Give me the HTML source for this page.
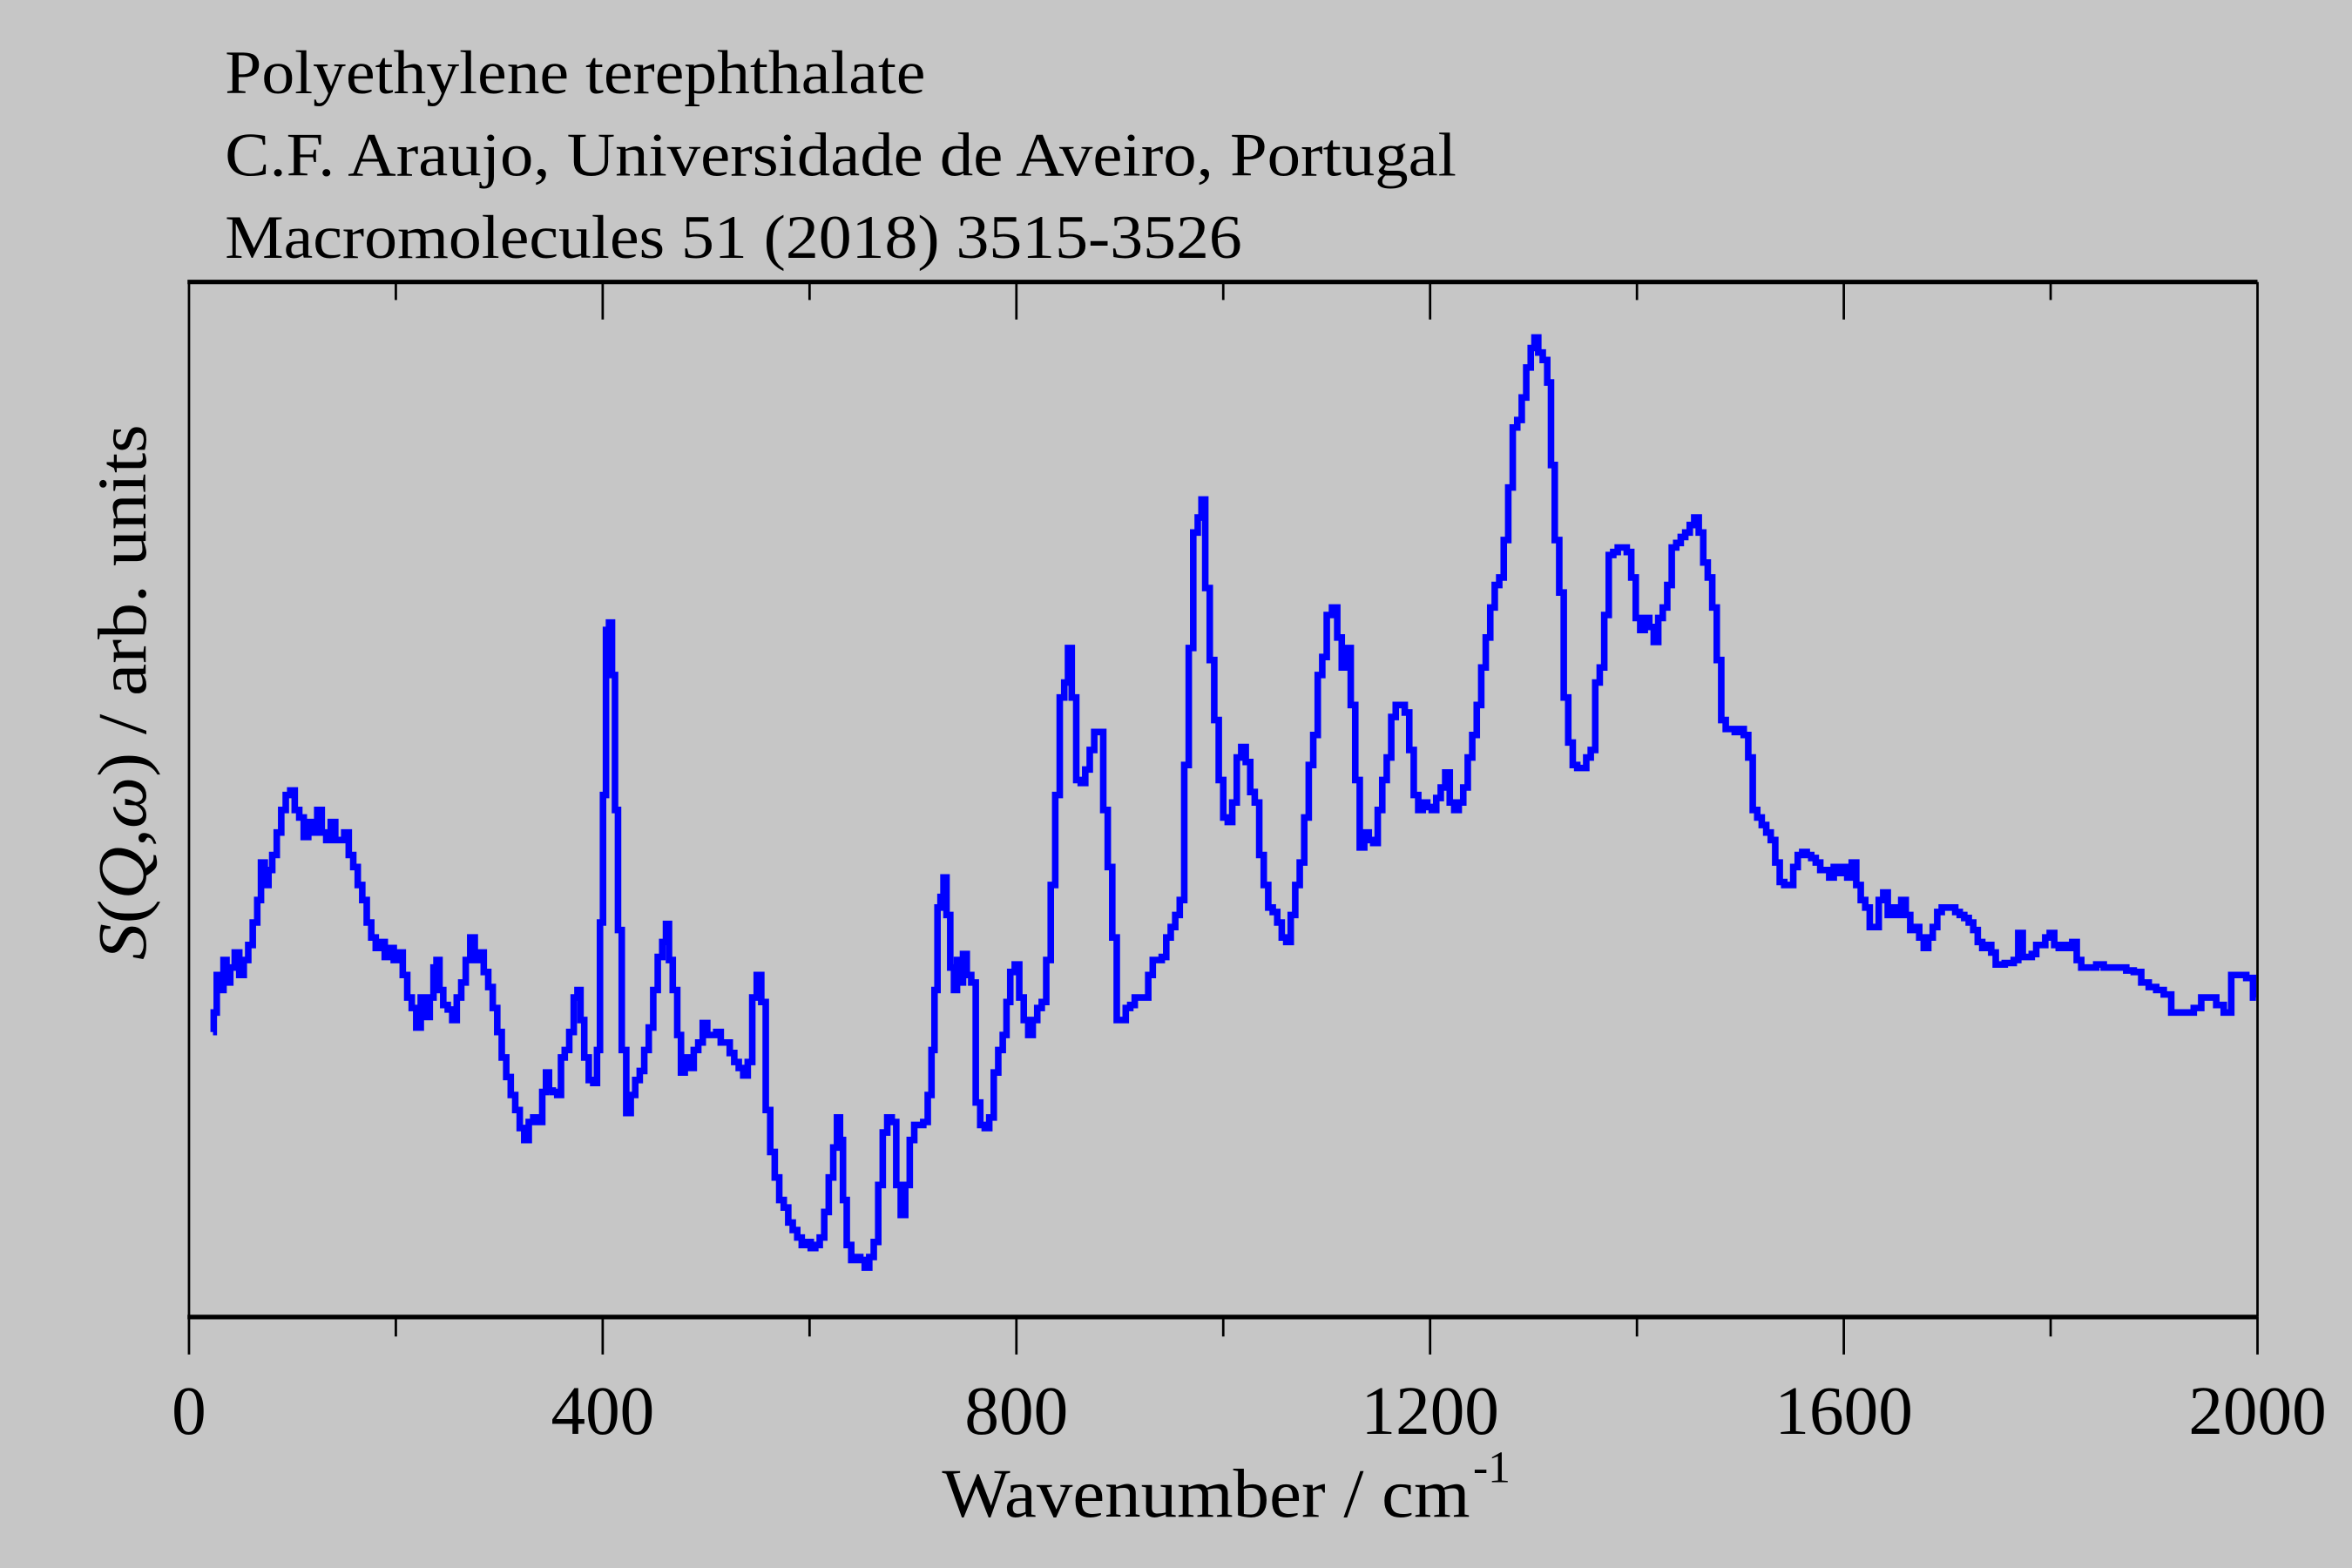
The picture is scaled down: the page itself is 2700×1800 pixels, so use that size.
<!DOCTYPE html>
<html><head><meta charset="utf-8"><style>
html,body{margin:0;padding:0;background:#c6c6c6;}
svg{display:block;}
text{font-family:"Liberation Serif","Times New Roman",serif;fill:#000;}
</style></head><body>
<svg width="2700" height="1800" viewBox="0 0 1568 1045.33" xmlns="http://www.w3.org/2000/svg">
<rect x="0" y="0" width="1568" height="1046" fill="#c6c6c6"/>
<text x="150" y="62" font-size="41" textLength="467" lengthAdjust="spacingAndGlyphs">Polyethylene terephthalate</text>
<text x="150" y="117" font-size="41" textLength="821" lengthAdjust="spacingAndGlyphs">C.F. Araujo, Universidade de Aveiro, Portugal</text>
<text x="150" y="172" font-size="41" textLength="678" lengthAdjust="spacingAndGlyphs">Macromolecules 51 (2018) 3515-3526</text>
<g stroke="#000" fill="none">
<line x1="125" y1="188" x2="1505" y2="188" stroke-width="3"/>
<line x1="125" y1="878" x2="1505" y2="878" stroke-width="3"/>
<line x1="126" y1="188" x2="126" y2="878" stroke-width="1.6"/>
<line x1="1505" y1="188" x2="1505" y2="878" stroke-width="1.6"/>
<g stroke-width="1.6">
<line x1="126" y1="878" x2="126" y2="903"/><line x1="401.8" y1="878" x2="401.8" y2="903"/><line x1="677.6" y1="878" x2="677.6" y2="903"/><line x1="953.4" y1="878" x2="953.4" y2="903"/><line x1="1229.2" y1="878" x2="1229.2" y2="903"/><line x1="1505" y1="878" x2="1505" y2="903"/>
<line x1="263.9" y1="878" x2="263.9" y2="891"/><line x1="539.7" y1="878" x2="539.7" y2="891"/><line x1="815.5" y1="878" x2="815.5" y2="891"/><line x1="1091.3" y1="878" x2="1091.3" y2="891"/><line x1="1367.1" y1="878" x2="1367.1" y2="891"/>
<line x1="401.8" y1="188" x2="401.8" y2="213"/><line x1="677.6" y1="188" x2="677.6" y2="213"/><line x1="953.4" y1="188" x2="953.4" y2="213"/><line x1="1229.2" y1="188" x2="1229.2" y2="213"/>
<line x1="263.9" y1="188" x2="263.9" y2="200"/><line x1="539.7" y1="188" x2="539.7" y2="200"/><line x1="815.5" y1="188" x2="815.5" y2="200"/><line x1="1091.3" y1="188" x2="1091.3" y2="200"/><line x1="1367.1" y1="188" x2="1367.1" y2="200"/>
</g></g>
<g font-size="46" text-anchor="middle">
<text x="126" y="956">0</text><text x="401.8" y="956">400</text><text x="677.6" y="956">800</text><text x="953.4" y="956">1200</text><text x="1229.2" y="956">1600</text><text x="1505" y="956">2000</text>
</g>
<text x="628" y="1011" font-size="46" textLength="352" lengthAdjust="spacingAndGlyphs">Wavenumber / cm</text>
<text x="982" y="988" font-size="30">-1</text>
<text transform="translate(97,640) rotate(-90)" font-size="46" textLength="357" lengthAdjust="spacingAndGlyphs"><tspan font-style="italic">S</tspan>(<tspan font-style="italic">Q</tspan>,<tspan font-style="italic">ω</tspan>) / arb. units</text>
<polyline id="src" fill="none" stroke="none" points="142,688 143,675 146,650 148,660 150,640 152,655 155,645 158,635 161,650 164,640 167,630 170,615 173,600 175,575 178,590 180,580 183,570 186,555 189,540 192,530 195,527 198,540 201,545 204,558 207,548 210,555 213,540 216,555 219,560 222,548 225,560 228,560 231,555 234,570 237,578 240,590 243,600 246,615 249,625 252,632 255,628 258,638 261,632 264,640 267,635 270,650 273,665 276,672 279,685 282,665 285,678 288,665 290,645 292,640 294,660 297,670 300,673 303,680 306,665 309,655 312,640 315,625 318,640 321,635 324,648 327,658 330,672 333,688 336,705 339,718 342,730 345,740 348,752 351,760 354,748 357,745 360,748 363,728 365,715 367,727 370,728 373,730 375,705 378,700 381,688 384,665 386,660 388,680 391,705 394,720 397,722 399,700 401,615 403,530 405,420 407,415 409,450 411,540 413,620 416,700 419,742 422,730 425,720 428,714 431,700 434,685 437,660 440,638 443,628 445,616 447,640 450,660 453,690 455,715 458,705 461,712 464,700 467,695 470,682 473,690 476,690 479,688 482,695 485,695 488,702 491,708 494,712 497,717 500,708 503,665 506,650 509,668 512,740 515,768 518,785 521,800 524,805 527,815 530,820 533,825 536,830 539,828 542,832 545,830 548,825 551,808 554,785 557,765 559,745 561,760 563,800 566,830 569,840 572,838 575,840 578,845 581,838 584,828 587,790 590,755 593,745 596,748 599,790 602,810 605,790 608,760 611,750 614,750 617,748 620,730 622,700 624,660 626,605 628,598 630,585 632,610 635,645 637,660 639,640 641,655 643,636 646,650 649,655 652,735 655,750 658,752 661,745 664,715 667,700 670,690 672,668 675,648 678,643 681,665 684,680 687,690 690,680 693,672 696,668 699,640 702,590 705,530 708,465 711,455 713,432 716,465 719,520 722,522 725,513 728,500 731,488 734,488 737,540 740,578 743,625 746,680 749,680 752,672 755,670 758,665 761,665 764,665 767,650 770,640 773,640 776,638 779,625 782,618 785,610 788,600 791,510 794,432 797,355 800,345 802,333 805,392 808,440 811,480 814,520 817,545 820,548 823,535 826,505 829,498 832,508 835,528 838,535 841,570 844,590 847,605 850,608 853,615 856,625 859,628 862,610 865,590 868,575 871,545 874,510 877,490 880,450 883,438 886,410 890,405 893,425 896,445 899,432 902,470 905,520 908,565 911,555 914,560 917,562 920,540 923,520 926,505 929,478 932,470 935,470 938,475 941,500 944,530 947,540 950,535 953,538 956,540 959,532 962,525 965,515 968,535 971,540 974,535 977,525 980,505 983,490 986,470 989,445 992,425 995,405 998,390 1001,385 1004,360 1007,325 1010,285 1013,280 1016,265 1019,245 1022,232 1024,225 1027,235 1030,240 1033,255 1035,310 1038,360 1041,395 1044,465 1047,495 1050,510 1053,512 1056,512 1059,505 1062,500 1065,455 1068,445 1071,410 1074,370 1077,368 1080,365 1083,365 1086,368 1089,385 1092,412 1095,420 1098,412 1101,418 1104,428 1107,412 1110,405 1113,390 1116,365 1119,362 1122,358 1125,355 1128,350 1131,345 1134,355 1137,375 1140,385 1143,405 1146,440 1149,480 1152,486 1155,486 1158,488 1161,486 1164,490 1167,505 1170,540 1173,545 1176,550 1179,555 1182,560 1185,575 1188,588 1191,590 1194,590 1197,578 1200,570 1203,568 1206,570 1209,572 1212,575 1215,580 1218,580 1221,585 1224,578 1227,582 1230,578 1233,585 1236,575 1239,590 1242,600 1245,605 1248,618 1251,618 1254,600 1257,595 1260,610 1263,605 1266,610 1269,600 1272,610 1275,620 1278,618 1281,625 1284,632 1287,625 1290,618 1293,608 1296,605 1299,605 1302,605 1305,608 1308,610 1311,612 1314,615 1317,620 1320,628 1323,632 1326,630 1329,635 1332,643 1335,643 1338,642 1341,642 1344,640 1347,622 1350,638 1353,638 1356,636 1359,630 1362,630 1365,625 1368,622 1371,630 1374,632 1377,630 1380,632 1383,628 1386,640 1389,645 1392,645 1395,645 1400,643 1405,645 1410,645 1415,645 1420,647 1425,648 1430,655 1435,658 1440,660 1445,663 1450,675 1455,675 1460,675 1465,672 1470,665 1475,665 1480,670 1485,675 1490,650 1495,650 1500,652 1504,665"/>
<path id="curve" fill="none" stroke="#0000ff" stroke-width="4.4" stroke-linejoin="miter" stroke-linecap="butt" d=""/>
</svg>
<script>
(function(){
var pts=document.getElementById('src').getAttribute('points').trim().split(/\s+/).map(function(p){return p.split(',').map(Number);});
var d='M'+pts[0][0]+','+pts[0][1];
for(var i=1;i<pts.length;i++){var xm=(pts[i-1][0]+pts[i][0])/2;d+=' H'+xm+' V'+pts[i][1];}
d+=' H'+pts[pts.length-1][0];
document.getElementById('curve').setAttribute('d',d);
})();
</script>
</body></html>
